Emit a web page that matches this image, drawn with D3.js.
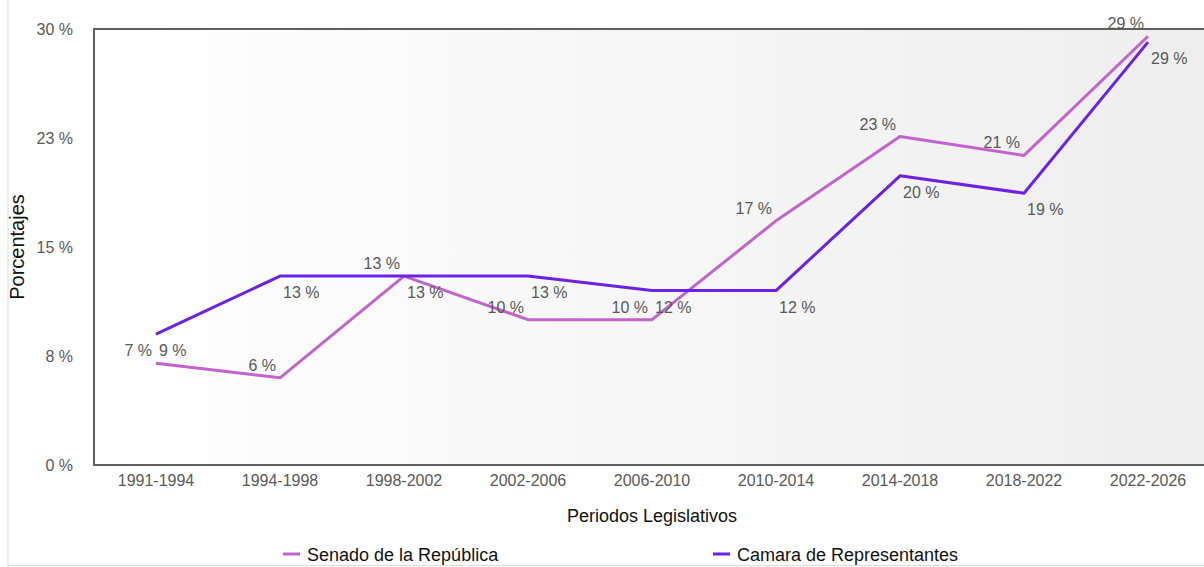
<!DOCTYPE html>
<html>
<head>
<meta charset="utf-8">
<script src="https://cdn.jsdelivr.net/npm/d3@7"></script>
<style>
  body { margin: 0; background: #fff; }
  text { font-family: "Liberation Sans", Arial, sans-serif; }
</style>
</head>
<body>
<div id="chart"></div>
<script>
// periodos legislativos
var periodos = ["1991-1994", "1994-1998", "1998-2002", "2002-2006", "2006-2010",
                "2010-2014", "2014-2018", "2018-2022", "2022-2026"];
// porcentaje de mujeres
var senado = [7.0, 6.0, 13.0, 10.0, 10.0, 16.8, 22.6, 21.3, 29.5];
var camara = [9.0, 13.0, 13.0, 13.0, 12.0, 12.0, 19.9, 18.7, 29.1];
var senadoLabels = ["7 %", "6 %", "13 %", "10 %", "10 %", "17 %", "23 %", "21 %", "29 %"];
var camaraLabels = ["9 %", "13 %", "13 %", "13 %", "12 %", "12 %", "20 %", "19 %", "29 %"];
var yTicks = [0, 7.5, 15, 22.5, 30];
var yTickLabels = ["0 %", "8 %", "15 %", "23 %", "30 %"];

var W = 1204, H = 567;
var margin = { top: 29, left: 94, bottom: 102 };
var plotRight = 1210;

var svg = d3.select("#chart").append("svg")
    .attr("width", W)
    .attr("height", H);

var x = d3.scaleBand().domain(periodos).range([margin.left, plotRight]).padding(0);
var y = d3.scaleLinear().domain([0, 30]).range([H - margin.bottom, margin.top]);
var cx = function (p) { return x(p) + x.bandwidth() / 2; };

// thin frame lines of the original picture
svg.append("line").attr("x1", 8).attr("x2", 8).attr("y1", 0).attr("y2", H)
    .attr("stroke", "#dcdcdc").attr("stroke-width", 1);
svg.append("line").attr("x1", 8).attr("x2", W).attr("y1", 565.5).attr("y2", 565.5)
    .attr("stroke", "#dcdcdc").attr("stroke-width", 1);

// plot background
var grad = svg.append("defs").append("linearGradient")
    .attr("id", "bg").attr("x1", "0%").attr("x2", "100%").attr("y1", "0%").attr("y2", "0%");
grad.append("stop").attr("offset", "0%").attr("stop-color", "#ffffff");
grad.append("stop").attr("offset", "100%").attr("stop-color", "#eeeeee");

svg.append("rect")
    .attr("x", margin.left).attr("y", y(30))
    .attr("width", plotRight - margin.left)
    .attr("height", y(0) - y(30))
    .attr("fill", "url(#bg)");

// border
svg.append("path")
    .attr("d", "M" + plotRight + "," + y(30) + "H" + margin.left + "V" + y(0) + "H" + plotRight)
    .attr("fill", "none")
    .attr("stroke", "#5f5f5f")
    .attr("stroke-width", 2);

// y axis
var yAxis = d3.axisLeft(y).tickValues(yTicks).tickSize(0).tickPadding(21)
    .tickFormat(function (d, i) { return yTickLabels[i]; });
var gy = svg.append("g").attr("transform", "translate(" + margin.left + ",0)").call(yAxis);
gy.select(".domain").remove();
gy.selectAll("text").attr("font-size", 16).attr("fill", "#595959")
    .attr("font-family", "Liberation Sans, Arial, sans-serif");

// x axis
var xAxis = d3.axisBottom(x).tickSize(0).tickPadding(10);
var gx = svg.append("g").attr("transform", "translate(0," + y(0) + ")").call(xAxis);
gx.select(".domain").remove();
gx.selectAll("text").attr("font-size", 16).attr("fill", "#595959")
    .attr("font-family", "Liberation Sans, Arial, sans-serif");

// axis titles
svg.append("text")
    .attr("x", 652).attr("y", 522)
    .attr("text-anchor", "middle")
    .attr("font-size", 18).attr("fill", "#111")
    .text("Periodos Legislativos");

svg.append("text")
    .attr("transform", "translate(24,247) rotate(-90)")
    .attr("text-anchor", "middle")
    .attr("font-size", 20).attr("fill", "#111")
    .text("Porcentajes");

// lines
var series = [
    { name: "Senado de la República", values: senado, labels: senadoLabels, color: "#c264cc" },
    { name: "Camara de Representantes", values: camara, labels: camaraLabels, color: "#6b22e6" }
];

var line = d3.line()
    .x(function (d, i) { return cx(periodos[i]); })
    .y(function (d) { return y(d); });

series.forEach(function (s) {
    svg.append("path")
        .datum(s.values)
        .attr("d", line)
        .attr("fill", "none")
        .attr("stroke", s.color)
        .attr("stroke-width", 3)
        .attr("stroke-linejoin", "round");
});

// data labels: senado above-left, camara below-right
svg.append("g").selectAll("text")
    .data(senado)
    .enter().append("text")
    .attr("x", function (d, i) { return cx(periodos[i]) - 4; })
    .attr("y", function (d) { return y(d) - 7; })
    .attr("text-anchor", "end")
    .attr("font-size", 16).attr("fill", "#595959")
    .text(function (d, i) { return senadoLabels[i]; });

svg.append("g").selectAll("text")
    .data(camara)
    .enter().append("text")
    .attr("x", function (d, i) { return cx(periodos[i]) + 3; })
    .attr("y", function (d) { return y(d) + 22; })
    .attr("text-anchor", "start")
    .attr("font-size", 16).attr("fill", "#595959")
    .text(function (d, i) { return camaraLabels[i]; });

// legend
var legendX = [283, 713];
series.forEach(function (s, i) {
    var g = svg.append("g").attr("transform", "translate(" + legendX[i] + ",554)");
    g.append("line").attr("x1", 0).attr("x2", 17).attr("y1", 0).attr("y2", 0)
        .attr("stroke", s.color).attr("stroke-width", 3);
    g.append("text").attr("x", 24).attr("y", 6.5)
        .attr("font-size", 18).attr("fill", "#111")
        .text(s.name);
});
</script>
</body>
</html>
